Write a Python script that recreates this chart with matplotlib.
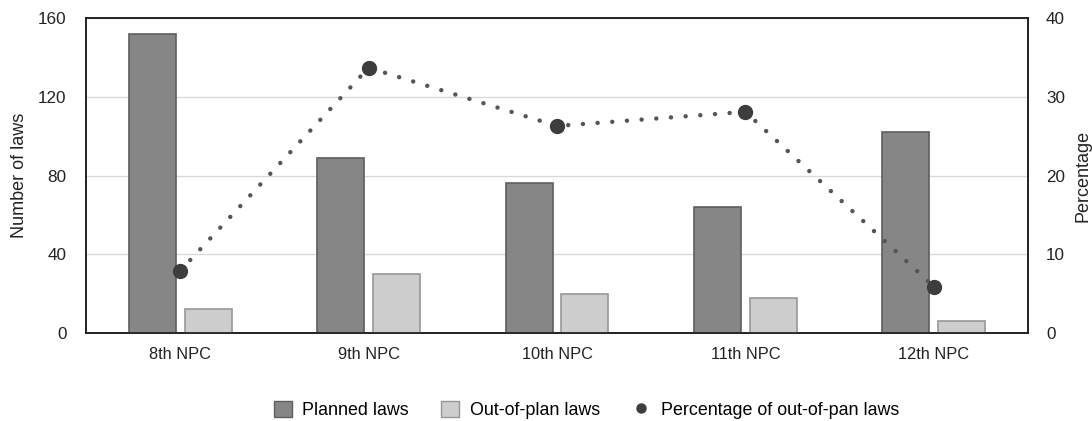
import matplotlib
matplotlib.use("Agg")
import matplotlib.pyplot as plt
import numpy as np
from matplotlib.lines import Line2D
from matplotlib.patches import Patch

plt.rcParams['font.family'] = ['Liberation Sans', 'DejaVu Sans']

categories = ["8th NPC", "9th NPC", "10th NPC", "11th NPC", "12th NPC"]
planned_laws = [152, 89, 76, 64, 102]
out_of_plan_laws = [12, 30, 20, 18, 6]
percentage_out_of_plan = [7.9, 33.7, 26.3, 28.1, 5.9]

left_ticks = [0, 40, 80, 120, 160]
right_ticks = [0, 10, 20, 30, 40]

fig = plt.figure(figsize=(10.92, 4.21), dpi=100)
ax = fig.add_axes([0.0788, 0.209, 0.8626, 0.748])
ax2 = ax.twinx()

x = np.arange(len(categories))
w = 0.25
off = 0.148

ax.bar(x - off, planned_laws, width=w, color="#868686", edgecolor="#5e5e5e",
       linewidth=1.2, zorder=3)
ax.bar(x + off, out_of_plan_laws, width=w, color="#cdcdcd", edgecolor="#979797",
       linewidth=1.2, zorder=3)

ax.set_xlim(-0.5, len(categories) - 0.5)
ax.set_ylim(0, 160)
ax.set_yticks(left_ticks)
ax.set_xticks(x)
ax.set_xticklabels(categories)
ax.grid(axis="y", color="#d9d9d9", linewidth=1.0, zorder=0)
ax.set_axisbelow(True)
ax.tick_params(axis="both", length=0, colors="#222222")
ax.tick_params(axis="y", pad=14, labelsize=12.3)
ax.tick_params(axis="x", pad=10, labelsize=11.8)
ax.set_ylabel("Number of laws", fontsize=13, labelpad=7, color="#222222")

ax2.plot(x, percentage_out_of_plan, linestyle=(0, (0.01, 3.3)), linewidth=3.2,
         dash_capstyle="round", color="#555555", zorder=4)
ax2.plot(x, percentage_out_of_plan, linestyle="none", marker="o", markersize=10,
         color="#3d3d3d", zorder=5)
ax2.set_ylim(0, 40)
ax2.set_yticks(right_ticks)
ax2.tick_params(axis="y", length=0, labelsize=12.3, pad=13, colors="#222222")
ax2.set_ylabel("Percentage", fontsize=13, labelpad=7, color="#222222")

for a in (ax, ax2):
    for s in a.spines.values():
        s.set_color("#222222")
        s.set_linewidth(1.2)

handles = [
    Patch(facecolor="#868686", edgecolor="#5e5e5e", label="Planned laws"),
    Patch(facecolor="#cdcdcd", edgecolor="#979797", label="Out-of-plan laws"),
    Line2D([0], [0], linestyle="none", marker="o", markersize=6.5, color="#3d3d3d",
           label="Percentage of out-of-pan laws"),
]
fig.legend(handles=handles, loc="center", bbox_to_anchor=(0.537, 0.026), ncol=3,
           frameon=False, fontsize=12.9, handlelength=1.0, handleheight=1.0,
           columnspacing=1.8, handletextpad=0.6)

fig.savefig("out.png", dpi=100)
